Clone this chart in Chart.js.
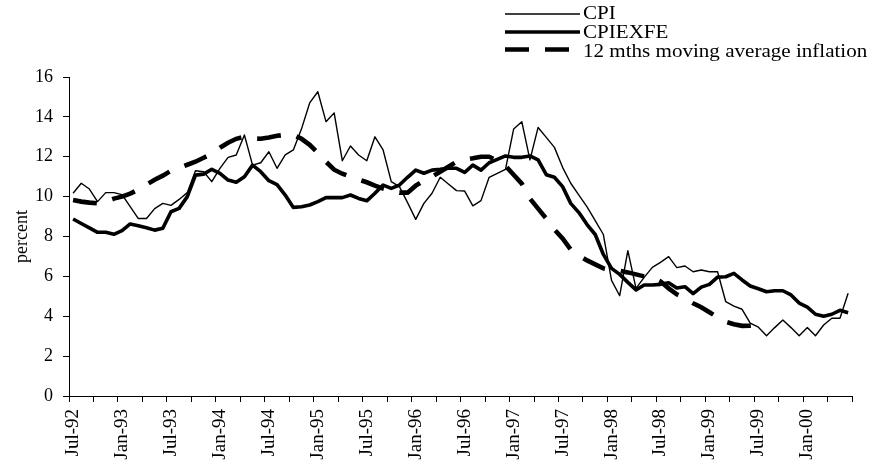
<!DOCTYPE html>
<html>
<head>
<meta charset="utf-8">
<script src="https://cdn.jsdelivr.net/npm/chart.js@4.4.0/dist/chart.umd.min.js"></script>
<style>
html,body{margin:0;padding:0;background:#fff;}
#wrap{width:878px;height:470px;position:relative;}
</style>
</head>
<body>
<div id="wrap"><canvas id="c"></canvas></div>
<script>
// ---- categories (monthly, Jul-92 .. Jun-00) ----
const monthNames = ['Jan','Feb','Mar','Apr','May','Jun','Jul','Aug','Sep','Oct','Nov','Dec'];
const firstYear = 1992, firstMonth = 6, monthCount = 96;
const categories = [];
for (let k = 0; k < monthCount; k++) {
  const m = (firstMonth + k) % 12;
  const y = firstYear + Math.floor((firstMonth + k) / 12);
  categories.push(monthNames[m] + '-' + String(y % 100).padStart(2, '0'));
}
const labelEvery = 6;   // tick labels every 6 months
const tickEvery = 3;    // tick marks every 3 months
const yTicks = [0, 2, 4, 6, 8, 10, 12, 14, 16];

// ---- series ----
const cpi = [
  10.17,10.67,10.38,9.75,10.2,10.2,10.1,9.5,8.9,8.9,9.4,9.66,
  9.56,9.86,10.2,11.3,11.25,10.75,11.42,11.97,12.09,13.09,11.58,11.7,
  12.25,11.42,12.09,12.34,13.4,14.7,15.26,13.76,14.2,11.8,12.54,12.09,
  11.8,13.0,12.34,10.75,10.5,9.7,8.86,9.66,10.17,10.97,10.63,10.3,
  10.28,9.54,9.8,10.97,11.17,11.37,13.39,13.76,11.84,13.47,12.97,12.47,
  11.47,10.67,10.08,9.49,8.8,8.1,5.8,5.03,7.29,5.4,5.95,6.45,
  6.7,6.99,6.44,6.52,6.23,6.32,6.23,6.23,4.73,4.51,4.35,3.65,
  3.45,3.02,3.43,3.81,3.43,3.02,3.43,3.02,3.56,3.9,3.9,5.15
];
const cpiexfe = [
  8.88,8.65,8.43,8.21,8.21,8.11,8.29,8.63,8.54,8.44,8.32,8.41,
  9.24,9.41,10.0,11.08,11.13,11.37,11.17,10.83,10.72,11.0,11.58,11.25,
  10.8,10.6,10.08,9.46,9.49,9.58,9.75,9.95,9.95,9.95,10.08,9.91,
  9.79,10.17,10.58,10.41,10.58,10.97,11.33,11.17,11.33,11.37,11.42,11.42,
  11.22,11.58,11.33,11.7,11.87,12.04,11.97,11.97,12.04,11.84,11.1,10.97,
  10.5,9.66,9.2,8.6,8.1,7.1,6.4,6.1,5.7,5.32,5.57,5.57,
  5.6,5.68,5.42,5.48,5.13,5.46,5.6,5.96,5.98,6.15,5.82,5.52,
  5.38,5.23,5.28,5.28,5.07,4.66,4.46,4.1,4.0,4.1,4.3,4.18
];
const movingAverage = [
  9.83,9.75,9.7,9.66,9.75,9.9,10.0,10.15,10.35,10.6,10.85,11.05,
  11.3,11.45,11.6,11.75,11.95,12.15,12.45,12.7,12.9,13.0,12.92,12.9,
  12.97,13.05,13.1,13.1,12.9,12.6,12.2,11.75,11.35,11.15,11.0,10.85,
  10.72,10.55,10.4,10.3,10.2,10.2,10.55,10.8,11.0,11.25,11.5,11.75,
  11.85,11.92,12.0,12.0,11.8,11.55,11.1,10.65,9.9,9.4,8.9,8.35,
  7.9,7.35,7.05,6.8,6.6,6.4,6.3,6.28,6.2,6.1,6.0,5.95,
  5.75,5.4,5.1,4.9,4.65,4.45,4.2,3.95,3.72,3.6,3.52,3.53,
  3.56,null,null,null,null,null,null,null,null,null,null,null
];
const seriesNames = ['CPI', 'CPIEXFE', '12 mths moving average inflation'];

// ---- styling ----
const FONT = '"Liberation Serif", "Times New Roman", serif';

const legendPlugin = {
  id: 'sideLegend',
  afterDraw(chart) {
    const ctx = chart.ctx;
    const lineY = [14, 32, 49.5];
    const baseY = [18.5, 37.5, 56.5];
    const stretch = 1.17;
    ctx.save();
    chart.data.datasets.forEach((ds, i) => {
      ctx.beginPath();
      ctx.setLineDash(ds.borderDash || []);
      ctx.lineWidth = ds.borderWidth;
      ctx.strokeStyle = ds.borderColor;
      ctx.lineCap = 'butt';
      ctx.moveTo(505, lineY[i]);
      ctx.lineTo(580, lineY[i]);
      ctx.stroke();
      ctx.setLineDash([]);
      ctx.save();
      ctx.translate(583, baseY[i]);
      ctx.scale(stretch, 1);
      ctx.fillStyle = '#000';
      ctx.font = '18px ' + FONT;
      ctx.textAlign = 'left';
      ctx.textBaseline = 'alphabetic';
      ctx.fillText(ds.label, 0, 0);
      ctx.restore();
    });
    ctx.restore();
  }
};

new Chart(document.getElementById('c'), {
  type: 'line',
  data: {
    labels: categories,
    datasets: [
      { label: seriesNames[0], data: cpi, borderColor: '#000', borderWidth: 1.4,
        pointRadius: 0, tension: 0, fill: false, borderJoinStyle: 'round' },
      { label: seriesNames[1], data: cpiexfe, borderColor: '#000', borderWidth: 3.6,
        pointRadius: 0, tension: 0, fill: false, borderJoinStyle: 'round' },
      { label: seriesNames[2], data: movingAverage, borderColor: '#000', borderWidth: 4.6,
        borderDash: [24, 16], borderCapStyle: 'butt',
        pointRadius: 0, tension: 0, fill: false, spanGaps: false }
    ]
  },
  options: {
    responsive: true,
    maintainAspectRatio: false,
    animation: false,
    events: [],
    layout: { padding: { top: 77, right: 15, left: 0, bottom: 0 } },
    plugins: { legend: { display: false }, tooltip: { enabled: false } },
    scales: {
      x: {
        type: 'category',
        offset: true,
        grid: {
          offset: true,
          drawOnChartArea: false,
          drawTicks: true,
          tickLength: 6,
          tickWidth: 1,
          tickColor: (c) => (c.index === undefined || c.index % tickEvery === 0) ? '#000' : 'rgba(0,0,0,0)'
        },
        border: { display: true, color: '#000', width: 1 },
        ticks: {
          autoSkip: false,
          maxRotation: 90,
          minRotation: 90,
          padding: 7,
          color: '#000',
          font: { family: FONT, size: 19 },
          callback: (v, i) => (i % labelEvery === 0 ? categories[i] : '')
        },
        afterFit: (s) => { s.height = 74; }
      },
      y: {
        min: yTicks[0],
        max: yTicks[yTicks.length - 1],
        afterBuildTicks: (s) => { s.ticks = yTicks.map(v => ({ value: v })); },
        grid: { drawOnChartArea: false, drawTicks: true, tickLength: 6, tickColor: '#000' },
        border: { display: true, color: '#000', width: 1 },
        ticks: { color: '#000', padding: 10, font: { family: FONT, size: 18 } },
        title: { display: true, text: 'percent', color: '#000',
                 font: { family: FONT, size: 18 }, padding: { top: 11, bottom: 0 } },
        afterFit: (s) => { s.width = 69; }
      }
    }
  },
  plugins: [legendPlugin]
});
</script>
</body>
</html>
